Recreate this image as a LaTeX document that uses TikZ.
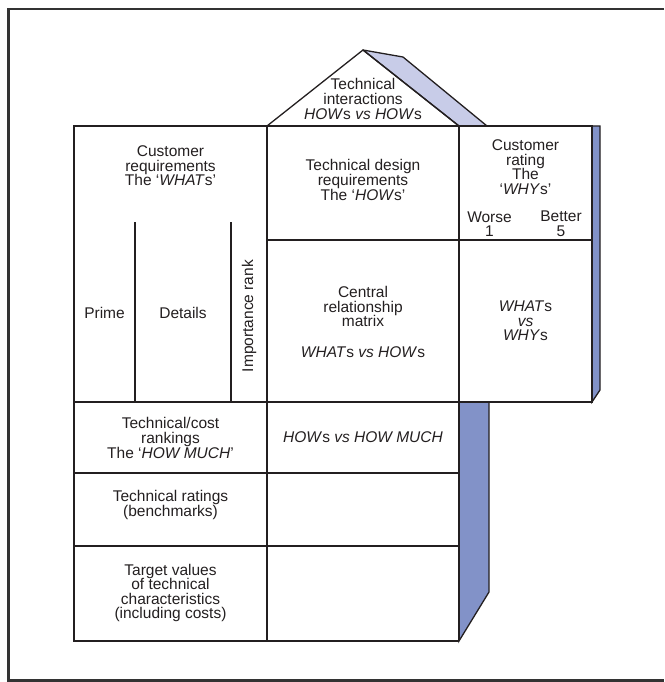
\documentclass[tikz,border=0pt]{standalone}
\usepackage{fontspec}
\setmainfont{Liberation Sans}
\definecolor{ln}{HTML}{231F20}
\definecolor{frm}{HTML}{333333}
\definecolor{roofc}{HTML}{C8CCE8}
\definecolor{sidec}{HTML}{8292C8}
\begin{document}
\begin{tikzpicture}[x=1pt,y=-1pt,
  txt/.style={font=\fontsize{15.5}{14.6}\selectfont, align=center, inner sep=0pt, text=ln},
  grid/.style={draw=ln, line width=1.3pt},
  frame/.style={draw=frm, line width=2.6pt}]
\useasboundingbox (0,0) rectangle (664,682);
% outer frame
\draw[frame] (664,9) -- (8.5,9) -- (8.5,680.5) -- (664,680.5);
% roof
\filldraw[fill=roofc, grid, line join=round] (363,50) -- (403,57) -- (487,126) -- (459,126) -- cycle;
\draw[grid, line join=miter] (267,126) -- (363,50) -- (459,126);
% side panels
\filldraw[fill=sidec, grid] (592,126) -- (600,126) -- (600,390) -- (592,402) -- cycle;
\filldraw[fill=sidec, grid] (459,402) -- (489,402) -- (489,592) -- (459,641) -- cycle;
% grid
\draw[grid] (74,126) -- (592,126) -- (592,402) -- (74,402) -- cycle;
\draw[grid] (74,402) -- (74,641) -- (459,641);
\draw[grid] (267,126) -- (267,641);
\draw[grid] (459,126) -- (459,641);
\draw[grid] (267,240) -- (592,240);
\draw[grid] (74,473) -- (459,473);
\draw[grid] (74,546) -- (459,546);
\draw[grid] (135,222) -- (135,402);
\draw[grid] (231,222) -- (231,402);
% texts
\node[txt] (roof) at (363,99) {Technical\\interactions\\\textit{HOW}s \textit{vs HOW}s};
\node[txt] (custreq) at (170.5,166) {Customer\\requirements\\The `\textit{WHAT}s'};
\node[txt] (prime) at (104.5,313) {Prime};
\node[txt] (details) at (183,313) {Details};
\node[txt, rotate=90] (imprank) at (249,316) {Importance rank};
\node[txt] (techdes) at (363,180) {Technical design\\requirements\\The `\textit{HOW}s'};
\node[txt] (custrat) at (525.5,167) {Customer\\rating\\The\\`\textit{WHY}s'};
\node[txt] (worse) at (489.5,224) {Worse\\1};
\node[txt] (better) at (561,224) {Better\\5};
\node[txt] (central) at (363,322) {Central\\relationship\\matrix\\[16pt]\textit{WHAT}s \textit{vs HOW}s};
\node[txt] (whatswhys) at (525.5,321) {\textit{WHAT}s\\\textit{vs}\\\textit{WHY}s};
\node[txt] (techcost) at (170.5,438) {Technical/cost\\rankings\\The `\textit{HOW MUCH}'};
\node[txt] (howmuch) at (363,437) {\textit{HOW}s \textit{vs HOW MUCH}};
\node[txt] (techrat) at (170.5,505) {Technical ratings\\(benchmarks)};
\node[txt] (target) at (170.5,593) {Target values\\of technical\\characteristics\\(including costs)};
\end{tikzpicture}
\end{document}
